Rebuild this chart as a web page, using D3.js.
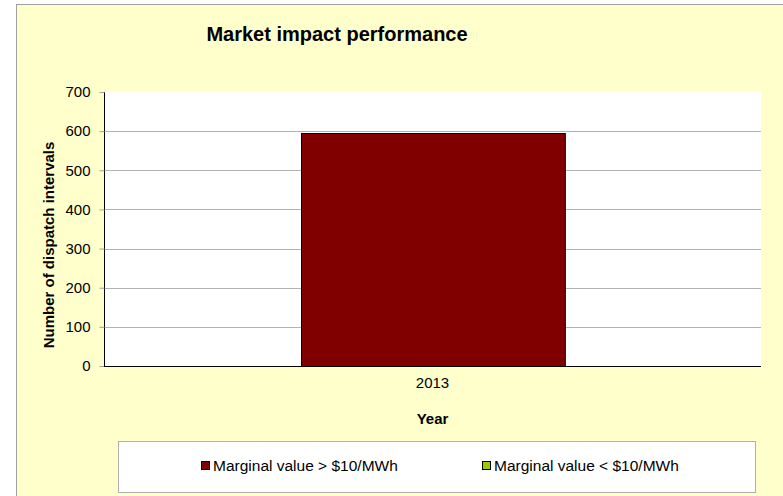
<!DOCTYPE html>
<html>
<head>
<meta charset="utf-8">
<script src="https://cdn.jsdelivr.net/npm/d3@7"></script>
<style>
  body { margin: 0; background: #fff; }
  svg { display: block; font-family: "Liberation Sans", Arial, sans-serif; }
</style>
</head>
<body>
<svg id="chart" width="783" height="496"></svg>
<script>
// ===== data =====
const years = ["2013"];
const aboveTen = [594];   // Marginal value > $10/MWh
const belowTen = [0];     // Marginal value < $10/MWh
const yTicks = [0, 100, 200, 300, 400, 500, 600, 700];
const legendLabels = ["Marginal value > $10/MWh", "Marginal value < $10/MWh"];
const legendColors = ["#800000", "#99CC00"];

// ===== layout =====
const svg = d3.select("#chart");
const plot = { left: 104, right: 761, top: 92, bottom: 366 };

// chart area background + border
svg.append("rect")
  .attr("x", 16.5).attr("y", 4.5)
  .attr("width", 800).attr("height", 520)
  .attr("fill", "#FFFFCC")
  .attr("stroke", "#a0a0a0");

// plot area
svg.append("rect")
  .attr("x", plot.left).attr("y", plot.top)
  .attr("width", plot.right - plot.left)
  .attr("height", plot.bottom - plot.top)
  .attr("fill", "#fff");

const x = d3.scaleBand()
  .domain(years)
  .range([plot.left, plot.right])
  .paddingInner(0.427)
  .paddingOuter(0.427);

const y = d3.scaleLinear()
  .domain([0, 700])
  .range([plot.bottom, plot.top]);

// gridlines
svg.append("g")
  .selectAll("line")
  .data(yTicks.filter(d => d > 0 && d < 700))
  .enter()
  .append("line")
  .attr("x1", plot.left).attr("x2", plot.right)
  .attr("y1", d => Math.round(y(d)) + 0.5)
  .attr("y2", d => Math.round(y(d)) + 0.5)
  .attr("stroke", "#b3b3b3");

// bars
svg.append("g")
  .selectAll("rect")
  .data(years.map((yr, i) => ({ yr, v: aboveTen[i] })))
  .enter()
  .append("rect")
  .attr("x", d => Math.round(x(d.yr)) + 0.5)
  .attr("y", d => Math.round(y(d.v)) + 0.5)
  .attr("width", x.bandwidth())
  .attr("height", d => Math.round(y(0)) - Math.round(y(d.v)))
  .attr("fill", legendColors[0])
  .attr("stroke", "#000");

// y axis
const yAxis = svg.append("g")
  .attr("transform", `translate(${plot.left + 0.5},0)`)
  .call(d3.axisLeft(y).tickValues(yTicks).tickSize(5).tickPadding(9).tickFormat(d3.format("d")));
yAxis.select(".domain").attr("stroke", "#000").attr("d", `M0,${plot.top}V${plot.bottom}`);
yAxis.selectAll(".tick line").attr("stroke", "#a0a0a0");
yAxis.selectAll(".tick text")
  .style("font-size", "15px")
  .style("font-family", "Liberation Sans, Arial, sans-serif")
  .attr("fill", "#000");

// x axis
const xAxis = svg.append("g")
  .attr("transform", `translate(0,${plot.bottom + 0.5})`)
  .call(d3.axisBottom(x).tickSize(0).tickPadding(11));
xAxis.select(".domain").attr("stroke", "#000").attr("d", `M${plot.left},0H${plot.right}`);
xAxis.selectAll(".tick text")
  .style("font-size", "15px")
  .style("font-family", "Liberation Sans, Arial, sans-serif")
  .attr("fill", "#000");

// titles
svg.append("text")
  .attr("x", 337).attr("y", 41)
  .attr("text-anchor", "middle")
  .style("font-size", "20px")
  .style("font-weight", "bold")
  .text("Market impact performance");

svg.append("text")
  .attr("x", (plot.left + plot.right) / 2).attr("y", 424)
  .attr("text-anchor", "middle")
  .style("font-size", "15px")
  .style("font-weight", "bold")
  .text("Year");

svg.append("text")
  .attr("transform", `translate(54,245) rotate(-90)`)
  .attr("text-anchor", "middle")
  .style("font-size", "15px")
  .style("font-weight", "bold")
  .text("Number of dispatch intervals");

// legend
const legend = svg.append("g");
legend.append("rect")
  .attr("x", 118.5).attr("y", 441.5)
  .attr("width", 637).attr("height", 51)
  .attr("fill", "#fff")
  .attr("stroke", "#b0b0b0");

const legendX = [201, 482];
legendLabels.forEach((lbl, i) => {
  legend.append("rect")
    .attr("x", legendX[i] + 0.5).attr("y", 461.5)
    .attr("width", 8).attr("height", 8)
    .attr("fill", legendColors[i])
    .attr("stroke", "#000");
  legend.append("text")
    .attr("x", legendX[i] + 12).attr("y", 471)
    .style("font-size", "15.5px")
    .text(lbl);
});
</script>
</body>
</html>
